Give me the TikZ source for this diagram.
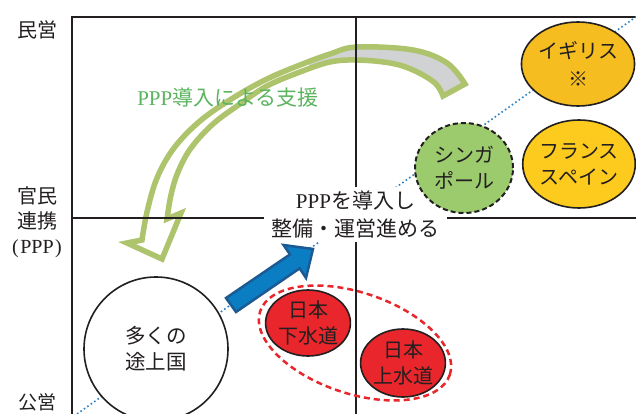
\documentclass[tikz,border=0pt]{standalone}
\usepackage{fontspec}
\setmainfont{Liberation Serif}
\newfontfamily\jp{Noto Sans CJK JP}
\usetikzlibrary{shapes.geometric}
\definecolor{framec}{HTML}{231F20}
\definecolor{dotblue}{HTML}{2A82C6}
\definecolor{ribgreen}{HTML}{AEC46C}
\definecolor{ribgray}{HTML}{D1D2D4}
\definecolor{txtgreen}{HTML}{5BB45E}
\definecolor{redfill}{HTML}{E8262B}
\definecolor{sgfill}{HTML}{9CCB6E}
\definecolor{ukfill}{HTML}{F5BD20}
\definecolor{frfill}{HTML}{FDCB1E}
\definecolor{bluefill}{HTML}{0B7DC3}
\definecolor{blueedge}{HTML}{1C5A93}
\tikzset{
  frameline/.style={draw=framec, line width=1.8pt},
  refdots/.style={draw=dotblue, line width=1.6pt, dash pattern=on 1.6pt off 2.6pt},
  bubble/.style={ellipse, draw=framec, line width=1.6pt, inner sep=0pt, align=center, text=framec, font=\jp\fontsize{20}{26}\selectfont},
  axislabel/.style={align=center, text=framec, font=\fontsize{20}{25}\selectfont, inner sep=0pt},
  ribbonline/.style={draw=ribgreen, line width=5.5pt, line join=miter, miter limit=4},
}
\newcommand\ribpath{plot[smooth,tension=0.6] coordinates {(142,240) (147,212) (157,178) (174,148) (200,121) (233,98) (267,79) (300,65) (330,54) (357,47) (413,50) (447,63) (465,84)} -- plot[smooth,tension=0.6] coordinates {(443,96) (435,83) (413,70) (390,63) (357,60) (330,62) (300,72) (267,86) (240,104) (213,124) (191,148) (178,172) (171,195) (167,219)} -- (181,213) -- (162,259) -- (127,243) -- cycle}
\begin{document}
\begin{tikzpicture}[x=1pt,y=-1pt]
\useasboundingbox (0,0) rectangle (636,414);
\clip (0,0) rectangle (636,414);
\fill[white] (0,0) rectangle (636,414);

% curved ribbon arrow
\fill[white] \ribpath;
\begin{scope}
  \clip (309,0) rectangle (636,140);
  \fill[ribgray] \ribpath;
\end{scope}
\draw[ribbonline] \ribpath;

\node[text=txtgreen, font=\fontsize{21}{25}\selectfont, inner sep=0pt] (support) at (228,98) {PPP{\jp 導入による支援}};

% frame
\draw[frameline] (72,414) -- (72,17) -- (636,17);
\draw[frameline] (356,17) -- (356,414);
\draw[frameline] (72,218) -- (636,218);

% dotted reference line
\coordinate (d0) at (77,414);
\coordinate (d1) at (640,14);
\draw[refdots] (d0) -- (d1);

\node[fill=white, minimum width=183pt, minimum height=55pt, inner sep=0pt, align=center, text=framec, font=\fontsize{21}{28}\selectfont] (intro) at (355.5,214.5) {PPP{\jp を導入し}\\{\jp 整備・運営進める}};

% Japan group
\node[ellipse, draw=redfill, line width=2.5pt, dash pattern=on 6pt off 4pt, minimum width=200pt, minimum height=101pt, rotate=-18.5, inner sep=0pt] (japan) at (355,343) {};
\node[bubble, fill=redfill, minimum width=80pt, minimum height=66pt] (gesui) at (308,323) {日本\\下水道};
\node[bubble, fill=redfill, minimum width=84pt, minimum height=68pt] (josui) at (403,363) {日本\\上水道};

\node[bubble, fill=white, minimum size=144pt, font=\jp\fontsize{20.5}{26}\selectfont] (tojo) at (156,349) {多くの\\途上国};

\node[bubble, fill=sgfill, dash pattern=on 5pt off 3pt, line width=2pt, minimum width=98pt, minimum height=90pt] (sg) at (464,168) {シンガ\\ポール};
\node[bubble, fill=ukfill, minimum width=103pt, minimum height=84pt] (uk) at (578,64) {イギリス\\[2pt]※};
\node[bubble, fill=frfill, minimum width=104pt, minimum height=88pt] (fr) at (579,164) {フランス\\スペイン};

% blue block arrow
\filldraw[fill=bluefill, draw=blueedge, line width=2.5pt, line join=miter] (226,298) -- (290,254.4) -- (283.5,245) -- (313,249) -- (306,278) -- (299.6,268.4) -- (236,312) -- cycle;

% axis labels
\node[axislabel] (lmin) at (37,30) {\jp 民営};
\node[axislabel] (lppp) at (37,222) {{\jp 官民}\\{\jp 連携}\\(\kern1.5pt PPP\kern1.5pt)};
\node[axislabel, font=\fontsize{19}{24}\selectfont] (lkou) at (37,402.5) {\jp 公営};
\end{tikzpicture}
\end{document}
